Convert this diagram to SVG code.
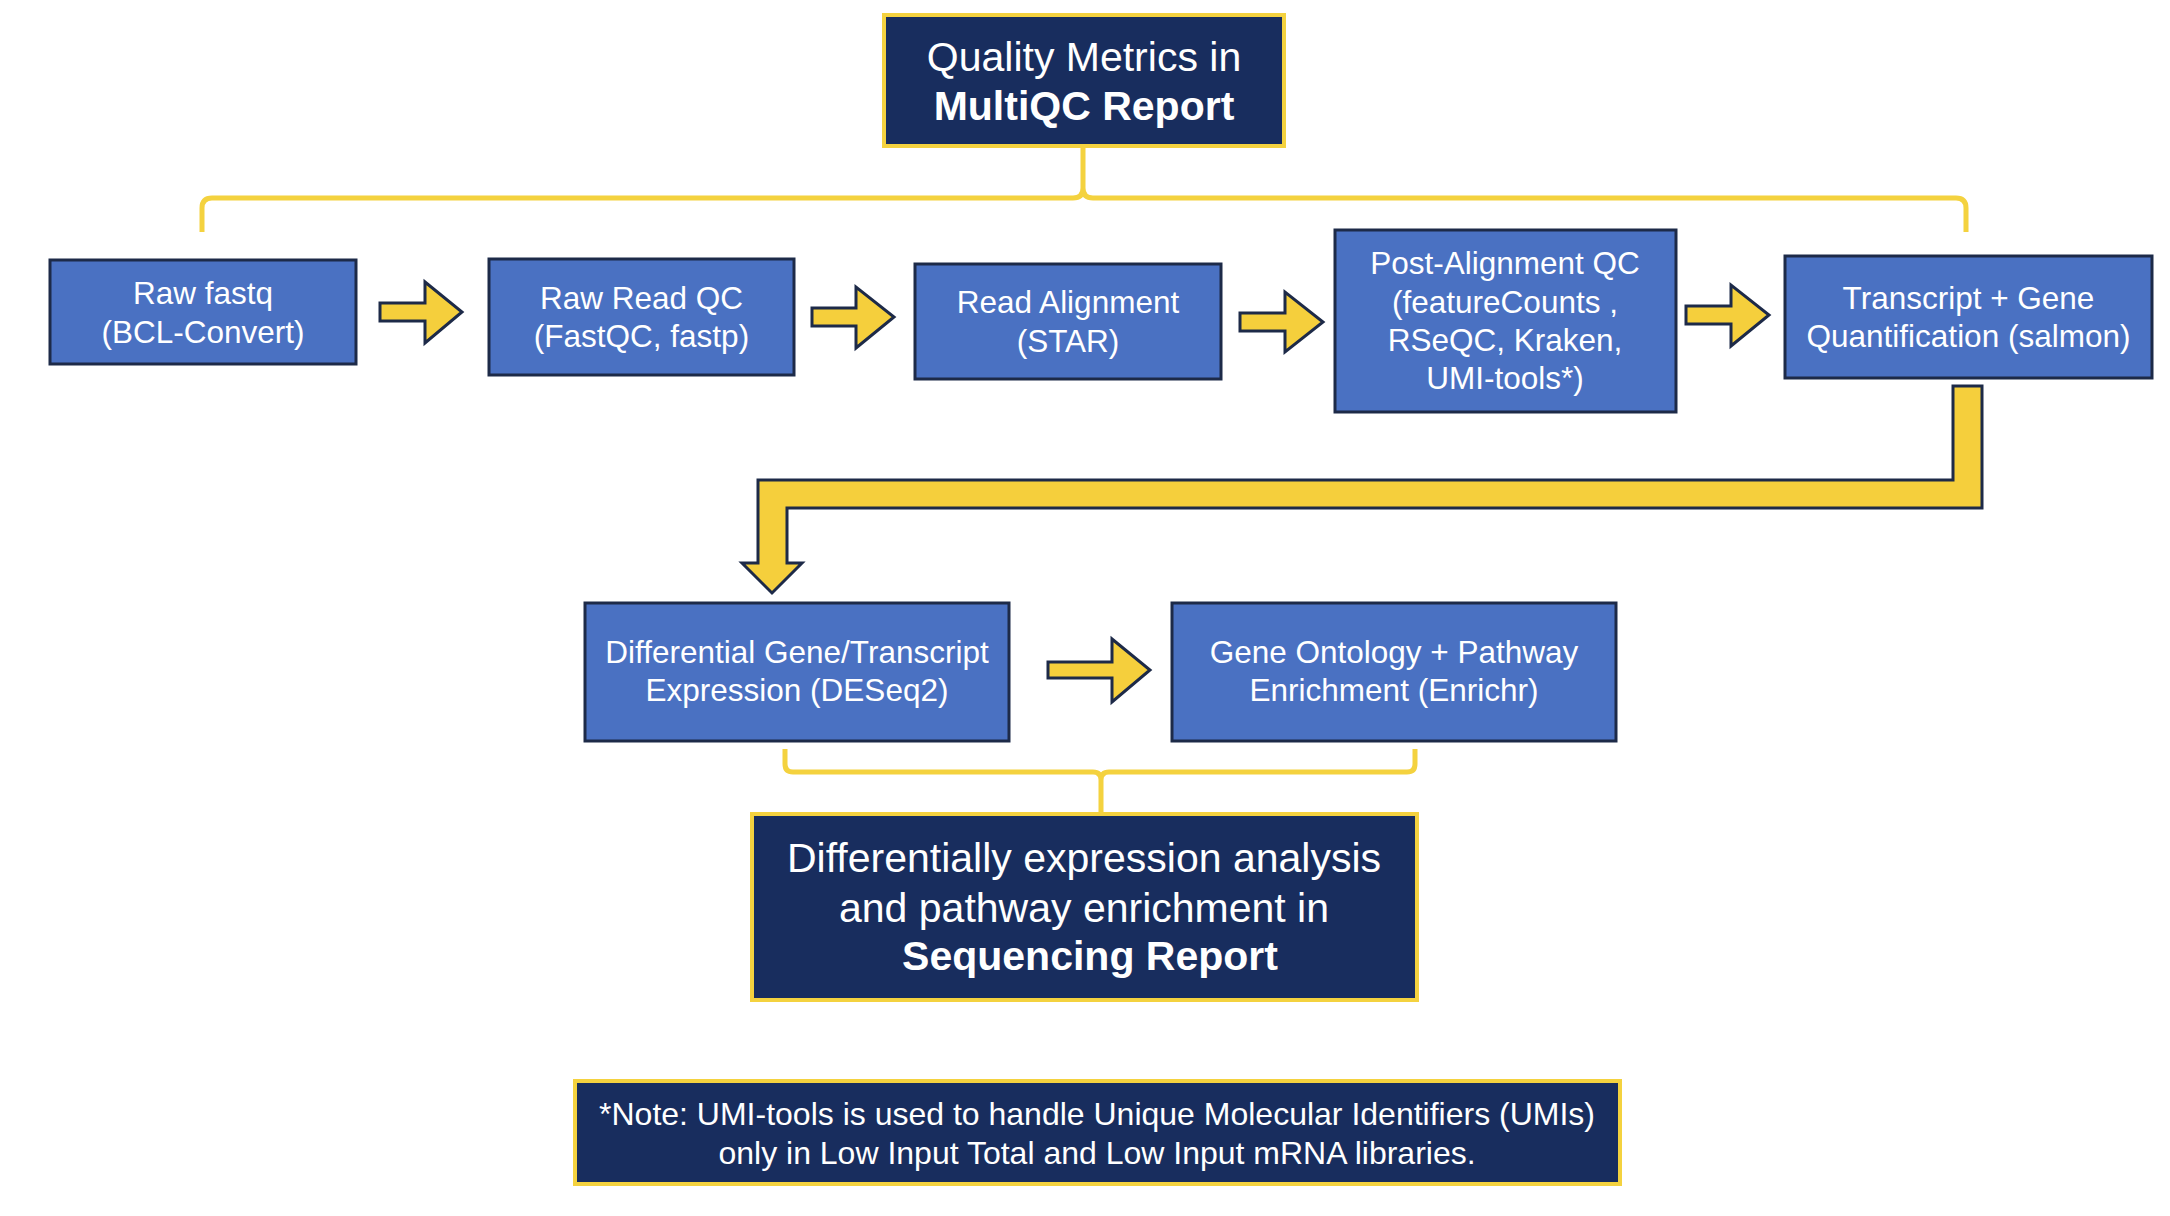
<svg xmlns="http://www.w3.org/2000/svg" width="2170" height="1216" viewBox="0 0 2170 1216">
<style>
.step{fill:#4a71c2;stroke:#1d2a48;stroke-width:3}
.report{fill:#182d5e;stroke:#f4d23f;stroke-width:4}
.t{font-family:"Liberation Sans",Arial,sans-serif;fill:#ffffff;text-anchor:middle}
.ts{font-size:31.5px}
.tl{font-size:41px}
.tn{font-size:32px}
.b{font-weight:bold}
.arrow{fill:#f5cf3c;stroke:#1d2a48;stroke-width:3;stroke-linejoin:miter}
.brace{fill:none;stroke:#f4d23f;stroke-width:5;stroke-linejoin:round}
</style>
<rect width="2170" height="1216" fill="#ffffff"/>
<g id="connectors">
  <path class="brace" d="M202,232 V208 Q202,198 212,198 H1073 Q1083,198 1083,188 V145 M1083,188 Q1083,198 1093,198 H1956 Q1966,198 1966,208 V232"/>
  <path class="brace" d="M785,749 V764 Q785,772 793,772 H1093 Q1101,772 1101,780 V813 M1101,780 Q1101,772 1109,772 H1407 Q1415,772 1415,764 V749"/>
  <polygon class="arrow" points="380,303 425,303 425,282 462,312 425,343 425,321 380,321"/>
  <polygon class="arrow" points="812,308 856,308 856,287 894,317 856,348 856,326 812,326"/>
  <polygon class="arrow" points="1240,313 1285,313 1285,292 1323,322 1285,352 1285,331 1240,331"/>
  <polygon class="arrow" points="1686,306 1731,306 1731,285 1769,315 1731,346 1731,324 1686,324"/>
  <polygon class="arrow" points="1048,662 1112,662 1112,639 1150,670 1112,702 1112,678 1048,678"/>
  <polygon class="arrow" points="1953,386 1982,386 1982,508 787,508 787,563 802,563 772,593 742,563 758,563 758,480 1953,480"/>
</g>
<g id="quality-metrics">
  <rect class="report" x="884" y="15" width="400" height="131"/>
  <text class="t tl" x="1084" y="71">Quality Metrics in</text>
  <text class="t tl b" x="1084" y="120">MultiQC Report</text>
</g>
<g id="raw-fastq">
  <rect class="step" x="50" y="260" width="306" height="104"/>
  <text class="t ts" x="203" y="304">Raw fastq</text>
  <text class="t ts" x="203" y="343">(BCL-Convert)</text>
</g>
<g id="raw-read-qc">
  <rect class="step" x="489" y="259" width="305" height="116"/>
  <text class="t ts" x="641.5" y="308.5">Raw Read QC</text>
  <text class="t ts" x="641.5" y="347">(FastQC, fastp)</text>
</g>
<g id="read-alignment">
  <rect class="step" x="915" y="264" width="306" height="115"/>
  <text class="t ts" x="1068" y="313">Read Alignment</text>
  <text class="t ts" x="1068" y="352">(STAR)</text>
</g>
<g id="post-alignment-qc">
  <rect class="step" x="1335" y="230" width="341" height="182"/>
  <text class="t ts" x="1505" y="274">Post-Alignment QC</text>
  <text class="t ts" x="1505" y="313">(featureCounts ,</text>
  <text class="t ts" x="1505" y="351">RSeQC, Kraken,</text>
  <text class="t ts" x="1505" y="389">UMI-tools*)</text>
</g>
<g id="quantification">
  <rect class="step" x="1785" y="256" width="367" height="122"/>
  <text class="t ts" x="1968.5" y="308.5">Transcript + Gene</text>
  <text class="t ts" x="1968.5" y="347">Quantification (salmon)</text>
</g>
<g id="differential-expression">
  <rect class="step" x="585" y="603" width="424" height="138"/>
  <text class="t ts" x="797" y="662.5">Differential Gene/Transcript</text>
  <text class="t ts" x="797" y="701">Expression (DESeq2)</text>
</g>
<g id="enrichment">
  <rect class="step" x="1172" y="603" width="444" height="138"/>
  <text class="t ts" x="1394" y="662.5">Gene Ontology + Pathway</text>
  <text class="t ts" x="1394" y="701">Enrichment (Enrichr)</text>
</g>
<g id="sequencing-report">
  <rect class="report" x="752" y="814" width="665" height="186"/>
  <text class="t tl" x="1084" y="872">Differentially expression analysis</text>
  <text class="t tl" x="1084" y="922">and pathway enrichment in</text>
  <text class="t tl b" x="1090" y="970">Sequencing Report</text>
</g>
<g id="note">
  <rect class="report" x="575" y="1081" width="1045" height="103"/>
  <text class="t tn" x="1097" y="1125">*Note: UMI-tools is used to handle Unique Molecular Identifiers (UMIs)</text>
  <text class="t tn" x="1097" y="1164">only in Low Input Total and Low Input mRNA libraries.</text>
</g>
</svg>
